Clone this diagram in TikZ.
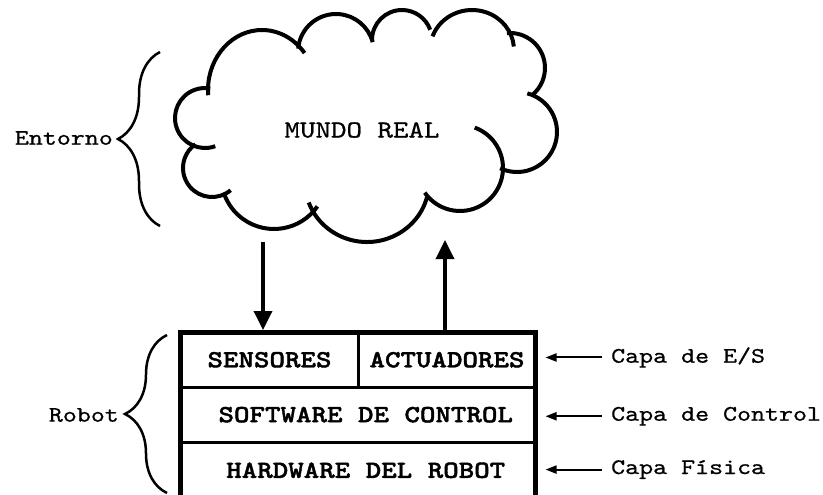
\documentclass[tikz,border=0pt]{standalone}
\usepackage{fontspec}
\newfontfamily\mono[FakeStretch=1.2,FakeBold=0.7,BoldFont=lmmonolt10-bold.otf,BoldFeatures={FakeBold=1.6}]{lmmono10-regular.otf}
\usetikzlibrary{arrows.meta,decorations.pathreplacing}

\newcommand{\bulto}[5]{\draw[nube] (#1,#2) ++(#4:#3) arc[start angle=#4,end angle=#5,radius=#3];}
\newcommand{\bultoe}[6]{\draw[nube] (#1,#2) ++(#5:#3 and #4) arc[start angle=#5,end angle=#6,x radius=#3,y radius=#4];}

\begin{document}
\begin{tikzpicture}[x=1pt,y=-1pt,
    nube/.style={line width=4pt},
    celda/.style={draw,line width=3pt,inner sep=0pt,outer sep=0pt,font=\mono\bfseries\fontsize{24.6}{30}\selectfont},
    texto/.style={font=\mono\fontsize{22.2}{28}\selectfont,inner sep=0pt},
    flecha/.style={line width=3.5pt,-{Triangle[length=19pt,width=18pt]}},
    flechita/.style={line width=2pt,-{Triangle[length=11pt,width=8pt]}},
    llave/.style={line width=2.5pt,decorate,decoration={brace,amplitude=42pt}}]
    \useasboundingbox (0,0) rectangle (823,495);
    % nube
    \bultoe{262}{90}{54}{60}{175}{322}
    \bulto{336}{52}{38}{185}{345}
    \bulto{402}{40}{30}{180}{340}
    \bultoe{472}{50}{42}{40}{200}{355}
    \bulto{510}{68}{35}{265}{410}
    \bulto{517}{132}{40}{285}{475}
    \bulto{460}{168}{43}{290}{505}
    \bultoe{367}{182}{62}{60}{15}{160}
    \bulto{274}{176}{53}{35}{160}
    \bulto{212}{168}{29}{50}{235}
    \bulto{205}{118}{30}{70}{280}
    \node[texto,font=\mono\fontsize{24.6}{30}\selectfont] (mundo) at (362,130) {MUNDO REAL};
    % robot
    \node[celda,minimum width=178pt,minimum height=54.5pt] (sensores) at (269.5,359.75) {SENSORES};
    \node[celda,minimum width=177pt,minimum height=54.5pt] (actuadores) at (447,359.75) {ACTUADORES};
    \node[celda,minimum width=355pt,minimum height=55.3pt] (software) at (358,414.65) {\hspace*{0.63em}SOFTWARE DE CONTROL};
    \node[celda,minimum width=355pt,minimum height=56pt] (hardware) at (358,470.3) {\hspace*{0.63em}HARDWARE DEL ROBOT};
    \draw[line width=5pt] (sensores.north west) rectangle (hardware.south east);
    % flechas
    \coordinate (sale) at (263,242);
    \coordinate (entra) at (445,240);
    \draw[flecha,shorten >=2.5pt] (sale) -- (sale |- sensores.north);
    \draw[flecha] ([yshift=-2.5pt]entra |- actuadores.north) -- (entra);
    % capas
    \node[texto,anchor=base west] (capaes) at (611,362.7) {Capa de E/S};
    \node[texto,anchor=base west] (capacontrol) at (611,420.7) {Capa de Control};
    \node[texto,anchor=base west] (capafisica) at (611,474) {Capa Física};
    \draw[flechita] ([xshift=-9pt]capaes.west) -- ([xshift=10pt]capaes.west -| actuadores.east);
    \draw[flechita] ([xshift=-9pt]capacontrol.west) -- ([xshift=10pt]capacontrol.west -| software.east);
    \draw[flechita] ([xshift=-9pt]capafisica.west) -- ([xshift=10pt]capafisica.west -| hardware.east);
    % llaves
    \draw[llave] (160,226) -- (160,52);
    \node[texto,anchor=east] (entorno) at (113,138) {Entorno};
    \draw[llave] (167,493) -- (167,335);
    \node[texto,anchor=east] (robot) at (119,415) {Robot};
\end{tikzpicture}
\end{document}
